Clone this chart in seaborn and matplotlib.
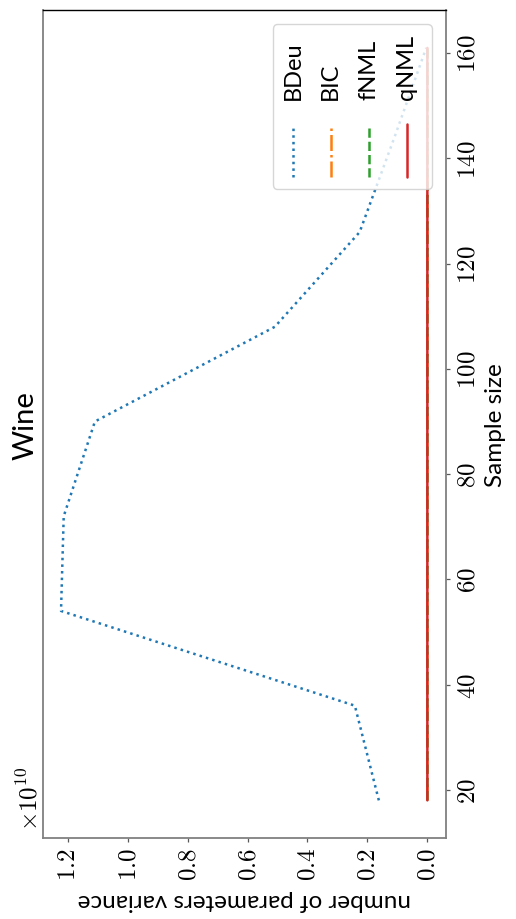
import matplotlib
matplotlib.use("Agg")
import numpy as np
import pandas as pd
import matplotlib.pyplot as plt
import seaborn as sns
from matplotlib.ticker import FuncFormatter
from matplotlib.legend_handler import HandlerLine2D
from matplotlib.lines import Line2D
from matplotlib.text import Text

# ---------------- data ----------------
sample_sizes = [18, 36, 54, 72, 90, 108, 126, 144, 161]
bdeu = [0.162e10, 0.242e10, 1.222e10, 1.213e10, 1.109e10, 0.509e10, 0.226e10, 0.110e10, 0.004e10]
bic = [2.1e6, 2.6e6, 3.0e6, 2.8e6, 2.5e6, 2.2e6, 1.9e6, 1.7e6, 1.5e6]
fnml = [1.8e6, 2.2e6, 2.6e6, 2.4e6, 2.1e6, 1.9e6, 1.6e6, 1.4e6, 1.2e6]
qnml = [1.5e6, 1.9e6, 2.3e6, 2.1e6, 1.8e6, 1.6e6, 1.4e6, 1.2e6, 1.0e6]
methods = ["BDeu", "BIC", "fNML", "qNML"]
colors = ["#1f77b4", "#ff7f0e", "#2ca02c", "#d62728"]
title_text = "Wine"
sample_label = "Sample size"
variance_label = "number of parameters variance"
sample_ticks = [20, 40, 60, 80, 100, 120, 140, 160]
variance_ticks = [0.0, 0.2e10, 0.4e10, 0.6e10, 0.8e10, 1.0e10, 1.2e10]
offset_text = r"$\times10^{10}$"

# ---------------- style ----------------
sns.set_style("white")
plt.rcParams["font.family"] = ["Lato", "DejaVu Sans"]
plt.rcParams["mathtext.fontset"] = "cm"
plt.rcParams["text.color"] = "black"
plt.rcParams["axes.labelcolor"] = "black"

rows = []
for m, vals in zip(methods, [bdeu, bic, fnml, qnml]):
    for s, v in zip(sample_sizes, vals):
        rows.append({"method": m, "sample": s, "variance": v})
df = pd.DataFrame(rows)

dash_map = {"BDeu": (1, 1.65), "BIC": (6.4, 1.6, 1, 1.6), "fNML": (3.7, 1.6), "qNML": ""}

fig = plt.figure(figsize=(5.16, 9.2), dpi=100)
ax = fig.add_axes([42.7 / 516, 1 - 839 / 920, (445.7 - 42.7) / 516, (839 - 11.3) / 920])

sns.lineplot(data=df, x="variance", y="sample", hue="method", style="method",
             hue_order=methods, style_order=methods, palette=colors,
             dashes=dash_map, orient="y", estimator=None, linewidth=1.8,
             ax=ax, legend=False)
ax.invert_xaxis()

# ticks
ax.set_xticks(variance_ticks)
ax.set_yticks(sample_ticks)
ax.xaxis.set_major_formatter(FuncFormatter(lambda v, p: r"$%.1f$" % (v / 1e10)))
ax.yaxis.set_major_formatter(FuncFormatter(lambda v, p: r"$%d$" % round(v)))
ax.yaxis.tick_right()
ax.yaxis.set_label_position("right")
ax.tick_params(axis="x", bottom=True, labelrotation=90, labelsize=18, length=3,
               width=0.9, color="0.35", labelcolor="black", pad=3.5)
ax.tick_params(axis="y", right=True, left=False, labelrotation=90, labelsize=18,
               length=3, width=0.9, color="0.35", labelcolor="black", pad=4)
for lab in ax.get_yticklabels():
    lab.set_verticalalignment("center")

for side in ["left", "right", "bottom"]:
    ax.spines[side].set_color("#808080")
    ax.spines[side].set_linewidth(1.3)
ax.spines["top"].set_color("black")
ax.spines["top"].set_linewidth(1.0)

ax.set_xlabel(variance_label, rotation=180, fontsize=17.5, labelpad=6)
ax.set_ylabel(sample_label, rotation=90, fontsize=17.5, labelpad=5)

ax.annotate(title_text, xy=(0, 0.5), xycoords="axes fraction", xytext=(-3, 0),
            textcoords="offset points", rotation=90, ha="right", va="center",
            fontsize=21)
ax.annotate(offset_text, xy=(0, 0), xycoords="axes fraction", xytext=(-1, 6),
            textcoords="offset points", rotation=90, ha="right", va="bottom",
            fontsize=18)


# ---------------- legend (rotated entries) ----------------
class RotatedEntry(HandlerLine2D):
    def __init__(self, label, size, **kw):
        super().__init__(**kw)
        self.label = label
        self.size = size

    def create_artists(self, legend, orig_handle, xdescent, ydescent, width,
                       height, fontsize, trans):
        cx = -xdescent + width / 2
        y0 = -ydescent
        line = Line2D([cx, cx], [y0 + 0.018 * height, y0 + 0.381 * height])
        self.update_prop(line, orig_handle, legend)
        line.set_transform(trans)
        txt = Text(cx, y0 + 0.552 * height, self.label, rotation=90,
                   ha="center", va="bottom", fontsize=self.size, color="black")
        txt.set_transform(trans)
        return [line, txt]


handles = list(ax.lines[:4])
hmap = {h: RotatedEntry(m, 17) for h, m in zip(handles, methods)}
fs = 17.0
H_pt = 146.1 * 72 / 100
hh = (H_pt / fs - 0.245) / 0.65
leg = ax.legend(handles, [""] * 4, handler_map=hmap, loc="upper right", ncols=4,
                fontsize=fs, handlelength=0.92, handleheight=hh,
                handletextpad=0.212, columnspacing=0.474, borderpad=0.4,
                borderaxespad=0.58, framealpha=0.8, edgecolor="0.8")

fig.savefig("out.png", dpi=100)
